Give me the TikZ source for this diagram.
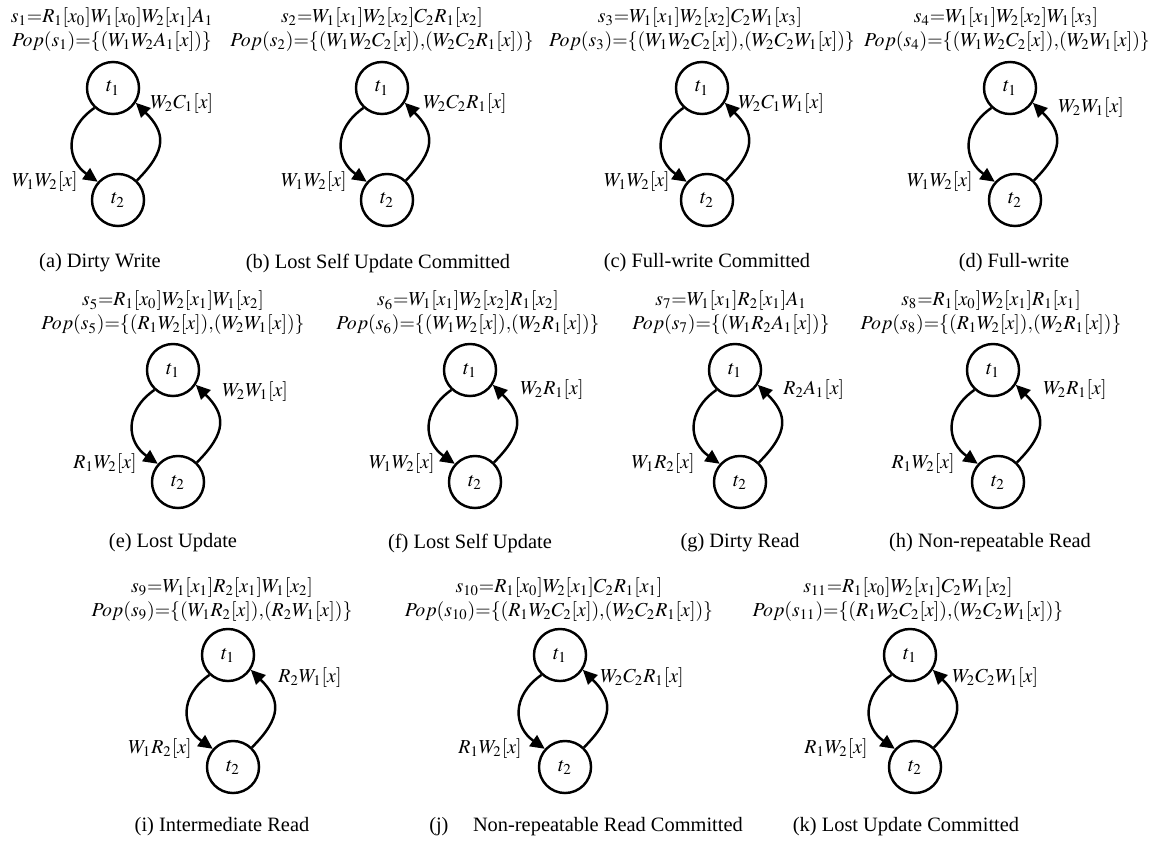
\documentclass[tikz,border=0pt]{standalone}
\usepackage{mathptmx}
\usepackage{fontspec}
\setmainfont{Liberation Serif}
\usetikzlibrary{arrows.meta}
\tikzset{
  txn/.style={circle,draw,line width=1.2pt,minimum size=25.5pt,inner sep=0pt},
  edge/.style={line width=1.2pt,-{Triangle[length=7pt,width=6.5pt]}},
  lcurve/.style={out=215,in=145,looseness=1.3},
  rcurve/.style={out=45,in=-45,looseness=1.4},
  sched/.style={inner sep=0pt,font=\fontsize{9.7}{11}\selectfont},
  lbl/.style={inner sep=0pt,font=\fontsize{9.7}{11}\selectfont},
}
\begin{document}
\begin{tikzpicture}[x=0.49pt,y=-0.49pt]
  \useasboundingbox (0,0) rectangle (1159,843);
  % row 1
  \begin{scope}[shift={(113,88)}]
    \node[txn] (a1) at (0,0) {$t_1$};
    \node[txn] (a2) at (5,112) {$t_2$};
    \node[sched] (as) at (-1,-70) {$s_1{=}R_1[x_0]W_1[x_0]W_2[x_1]A_1$};
    \node[sched] (ap) at (-1,-46) {$Pop(s_1){=}\{(W_1W_2A_1[x])\}$};
    \draw[edge] (a1.227) to[lcurve] (a2.138);
    \draw[edge] (a2.46) to[rcurve] (a1.-33);
    \node[lbl,anchor=west] (ar) at (37,16) {$W_2C_1[x]$};
    \node[lbl,anchor=east] (al) at (-35,94) {$W_1W_2[x]$};
    \node (ac) at (-13,175) {(a) Dirty Write};
  \end{scope}
  \begin{scope}[shift={(382,88)}]
    \node[txn] (b1) at (0,0) {$t_1$};
    \node[txn] (b2) at (5,112) {$t_2$};
    \node[sched] (bs) at (0,-70) {$s_2{=}W_1[x_1]W_2[x_2]C_2R_1[x_2]$};
    \node[sched] (bp) at (0,-46) {$Pop(s_2){=}\{(W_1W_2C_2[x]){,}(W_2C_2R_1[x])\}$};
    \draw[edge] (b1.227) to[lcurve] (b2.138);
    \draw[edge] (b2.46) to[rcurve] (b1.-33);
    \node[lbl,anchor=west] (br) at (41,16) {$W_2C_2R_1[x]$};
    \node[lbl,anchor=east] (bl) at (-35,94) {$W_1W_2[x]$};
    \node (bc) at (-4,175) {(b) Lost Self Update Committed};
  \end{scope}
  \begin{scope}[shift={(702,88)}]
    \node[txn] (c1) at (0,0) {$t_1$};
    \node[txn] (c2) at (5,112) {$t_2$};
    \node[sched] (cs) at (-2,-70) {$s_3{=}W_1[x_1]W_2[x_2]C_2W_1[x_3]$};
    \node[sched] (cp) at (0,-46) {$Pop(s_3){=}\{(W_1W_2C_2[x]){,}(W_2C_2W_1[x])\}$};
    \draw[edge] (c1.227) to[lcurve] (c2.138);
    \draw[edge] (c2.46) to[rcurve] (c1.-33);
    \node[lbl,anchor=west] (cr) at (36,16) {$W_2C_1W_1[x]$};
    \node[lbl,anchor=east] (cl) at (-32,94) {$W_1W_2[x]$};
    \node (cc) at (5,175) {(c) Full-write Committed};
  \end{scope}
  \begin{scope}[shift={(1010,88)}]
    \node[txn] (d1) at (0,0) {$t_1$};
    \node[txn] (d2) at (5,112) {$t_2$};
    \node[sched] (ds) at (-4,-70) {$s_4{=}W_1[x_1]W_2[x_2]W_1[x_3]$};
    \node[sched] (dp) at (-3,-46) {$Pop(s_4){=}\{(W_1W_2C_2[x]){,}(W_2W_1[x])\}$};
    \draw[edge] (d1.227) to[lcurve] (d2.138);
    \draw[edge] (d2.46) to[rcurve] (d1.-33);
    \node[lbl,anchor=west] (dr) at (48,20) {$W_2W_1[x]$};
    \node[lbl,anchor=east] (dl) at (-37,94) {$W_1W_2[x]$};
    \node (dc) at (4,175) {(d) Full-write};
  \end{scope}
  % row 2
  \begin{scope}[shift={(173,370)}]
    \node[txn] (e1) at (0,0) {$t_1$};
    \node[txn] (e2) at (5,112) {$t_2$};
    \node[sched] (es) at (0,-69) {$s_5{=}R_1[x_0]W_2[x_1]W_1[x_2]$};
    \node[sched] (ep) at (0,-45) {$Pop(s_5){=}\{(R_1W_2[x]){,}(W_2W_1[x])\}$};
    \draw[edge] (e1.227) to[lcurve] (e2.138);
    \draw[edge] (e2.46) to[rcurve] (e1.-33);
    \node[lbl,anchor=west] (er) at (49,22) {$W_2W_1[x]$};
    \node[lbl,anchor=east] (el) at (-36,94) {$R_1W_2[x]$};
    \node (ec) at (0,173) {(e) Lost Update};
  \end{scope}
  \begin{scope}[shift={(470,370)}]
    \node[txn] (f1) at (0,0) {$t_1$};
    \node[txn] (f2) at (5,112) {$t_2$};
    \node[sched] (fs) at (-2,-69) {$s_6{=}W_1[x_1]W_2[x_2]R_1[x_2]$};
    \node[sched] (fp) at (-2,-45) {$Pop(s_6){=}\{(W_1W_2[x]){,}(W_2R_1[x])\}$};
    \draw[edge] (f1.227) to[lcurve] (f2.138);
    \draw[edge] (f2.46) to[rcurve] (f1.-33);
    \node[lbl,anchor=west] (fr) at (50,20) {$W_2R_1[x]$};
    \node[lbl,anchor=east] (fl) at (-35,94) {$W_1W_2[x]$};
    \node (fc) at (0,173) {(f) Lost Self Update};
  \end{scope}
  \begin{scope}[shift={(735,370)}]
    \node[txn] (g1) at (0,0) {$t_1$};
    \node[txn] (g2) at (5,112) {$t_2$};
    \node[sched] (gs) at (-4,-69) {$s_7{=}W_1[x_1]R_2[x_1]A_1$};
    \node[sched] (gp) at (-4,-45) {$Pop(s_7){=}\{(W_1R_2A_1[x])\}$};
    \draw[edge] (g1.227) to[lcurve] (g2.138);
    \draw[edge] (g2.46) to[rcurve] (g1.-33);
    \node[lbl,anchor=west] (gr) at (48,20) {$R_2A_1[x]$};
    \node[lbl,anchor=east] (gl) at (-40,94) {$W_1R_2[x]$};
    \node (gc) at (5,173) {(g) Dirty Read};
  \end{scope}
  \begin{scope}[shift={(993,370)}]
    \node[txn] (h1) at (0,0) {$t_1$};
    \node[txn] (h2) at (5,112) {$t_2$};
    \node[sched] (hs) at (-2,-69) {$s_8{=}R_1[x_0]W_2[x_1]R_1[x_1]$};
    \node[sched] (hp) at (-2,-45) {$Pop(s_8){=}\{(R_1W_2[x]){,}(W_2R_1[x])\}$};
    \draw[edge] (h1.227) to[lcurve] (h2.138);
    \draw[edge] (h2.46) to[rcurve] (h1.-33);
    \node[lbl,anchor=west] (hr) at (50,20) {$W_2R_1[x]$};
    \node[lbl,anchor=east] (hl) at (-38,94) {$R_1W_2[x]$};
    \node (hc) at (-3,173) {(h) Non-repeatable Read};
  \end{scope}
  % row 3
  \begin{scope}[shift={(228,655)}]
    \node[txn] (i1) at (0,0) {$t_1$};
    \node[txn] (i2) at (5,112) {$t_2$};
    \node[sched] (is) at (-6,-67) {$s_9{=}W_1[x_1]R_2[x_1]W_1[x_2]$};
    \node[sched] (ip) at (-6,-43) {$Pop(s_9){=}\{(W_1R_2[x]){,}(R_2W_1[x])\}$};
    \draw[edge] (i1.227) to[lcurve] (i2.138);
    \draw[edge] (i2.46) to[rcurve] (i1.-33);
    \node[lbl,anchor=west] (ir) at (50,23) {$R_2W_1[x]$};
    \node[lbl,anchor=east] (il) at (-36,94) {$W_1R_2[x]$};
    \node (ic) at (-6,172) {(i) Intermediate Read};
  \end{scope}
  \begin{scope}[shift={(560,655)}]
    \node[txn] (j1) at (0,0) {$t_1$};
    \node[txn] (j2) at (5,112) {$t_2$};
    \node[sched] (js) at (-1,-67) {$s_{10}{=}R_1[x_0]W_2[x_1]C_2R_1[x_1]$};
    \node[sched] (jp) at (-1,-43) {$Pop(s_{10}){=}\{(R_1W_2C_2[x]){,}(W_2C_2R_1[x])\}$};
    \draw[edge] (j1.227) to[lcurve] (j2.138);
    \draw[edge] (j2.46) to[rcurve] (j1.-33);
    \node[lbl,anchor=west] (jr) at (40,23) {$W_2C_2R_1[x]$};
    \node[lbl,anchor=east] (jl) at (-38,94) {$R_1W_2[x]$};
    \node (jc) at (26,172) {(j)\hspace{12pt}Non-repeatable Read Committed};
  \end{scope}
  \begin{scope}[shift={(910,655)}]
    \node[txn] (k1) at (0,0) {$t_1$};
    \node[txn] (k2) at (5,112) {$t_2$};
    \node[sched] (ks) at (-2,-67) {$s_{11}{=}R_1[x_0]W_2[x_1]C_2W_1[x_2]$};
    \node[sched] (kp) at (-2,-43) {$Pop(s_{11}){=}\{(R_1W_2C_2[x]){,}(W_2C_2W_1[x])\}$};
    \draw[edge] (k1.227) to[lcurve] (k2.138);
    \draw[edge] (k2.46) to[rcurve] (k1.-33);
    \node[lbl,anchor=west] (kr) at (42,23) {$W_2C_2W_1[x]$};
    \node[lbl,anchor=east] (kl) at (-42,94) {$R_1W_2[x]$};
    \node (kc) at (-4,172) {(k) Lost Update Committed};
  \end{scope}
\end{tikzpicture}
\end{document}
